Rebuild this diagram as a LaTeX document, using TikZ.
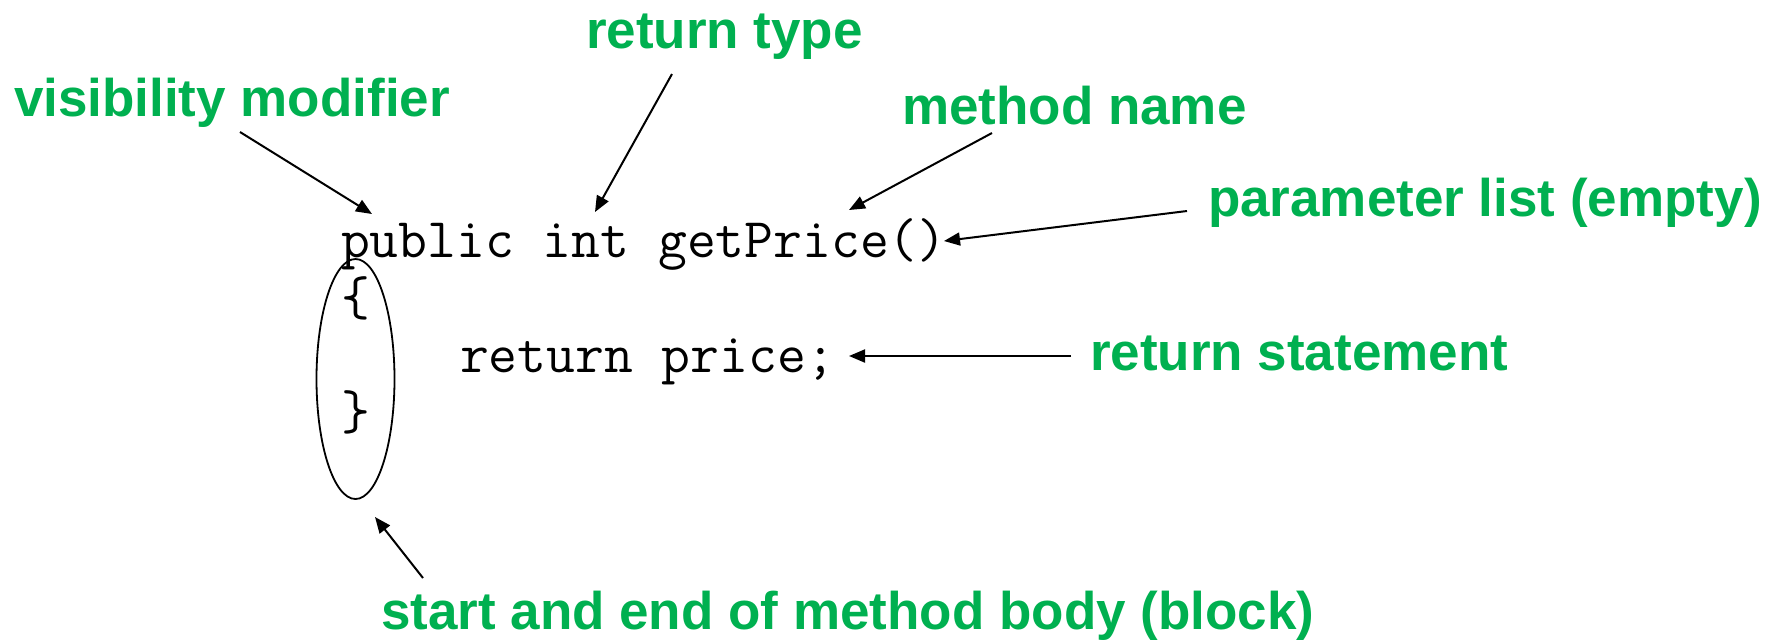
\documentclass[tikz,border=0pt]{standalone}
\usepackage{fontspec}
\setmainfont{Liberation Sans}
\usetikzlibrary{arrows.meta,shapes.geometric}
\definecolor{lblgreen}{RGB}{0,176,80}
\begin{document}
\begin{tikzpicture}[x=0.5pt,y=-0.5pt,
  lbl/.style={anchor=base west,inner sep=0pt,outer sep=0pt,text=lblgreen,font=\fontsize{26.5}{30}\selectfont\bfseries},
  code/.style={anchor=base west,inner sep=0pt,outer sep=0pt,font=\ttfamily\fontsize{28}{31}\selectfont},
  pointer/.style={line width=1pt,-{Triangle[length=8pt,width=6.5pt]}}]
\useasboundingbox (0,0) rectangle (1767,639);
% code
\node[code] (sig) at (341,257) {public int getPrice()};
\node[code] (open) at (341,315) {\{};
\node[code] (ret) at (460,372) {return price;};
\node[code] (close) at (341,429) {\}};
\node[draw,line width=0.9pt,ellipse,minimum width=39pt,minimum height=120pt,inner sep=0pt] (body) at (355.5,379) {};
% labels
\node[lbl] (vis) at (14,116) {visibility modifier};
\node[lbl] (rtype) at (586,48) {return type};
\node[lbl] (mname) at (902,124) {method name};
\node[lbl] (plist) at (1208,216) {parameter list (empty)};
\node[lbl] (rstat) at (1090,370) {return statement};
\node[lbl] (blk) at (381,629) {start and end of method body (block)};
% arrow ends
\coordinate (visA) at (240,132);   \coordinate (visB) at (372,214);
\coordinate (rtA) at (672,74);     \coordinate (rtB) at (595,212);
\coordinate (mnA) at (992,133);    \coordinate (mnB) at (849,210);
\coordinate (plA) at (1187,211);   \coordinate (plB) at (944,241);
\coordinate (rsA) at (1071,356);   \coordinate (rsB) at (849,356);
\coordinate (bkA) at (423,578);    \coordinate (bkB) at (375,517);
\draw[pointer] (visA) -- (visB);
\draw[pointer] (rtA) -- (rtB);
\draw[pointer] (mnA) -- (mnB);
\draw[pointer] (plA) -- (plB);
\draw[pointer] (rsA) -- (rsB);
\draw[pointer] (bkA) -- (bkB);
\end{tikzpicture}
\end{document}
